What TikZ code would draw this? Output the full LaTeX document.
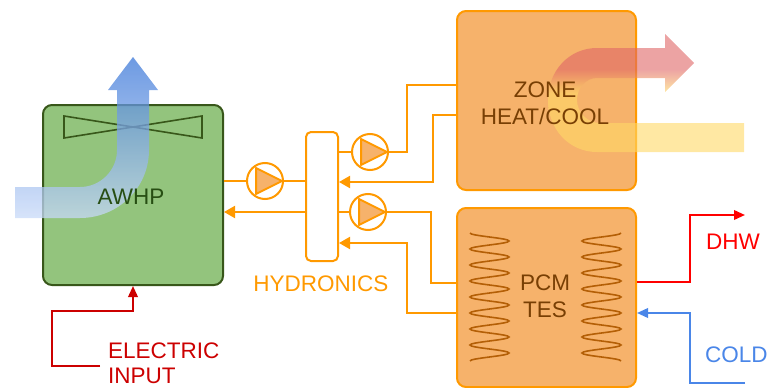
\documentclass[tikz,border=0pt]{standalone}
\usepackage{fontspec}
\setmainfont{Liberation Sans}
\usetikzlibrary{arrows.meta}
\definecolor{hotred}{HTML}{E06666}
\definecolor{warmyellow}{HTML}{FFD966}
\definecolor{airblue}{HTML}{3C78D8}
\definecolor{airpale}{HTML}{C9DAF8}
\definecolor{hydroorange}{HTML}{FF9900}
\definecolor{boxorange}{HTML}{F6B26B}
\definecolor{boxgreen}{HTML}{93C47D}
\definecolor{darkgreen}{HTML}{38571A}
\definecolor{textgreen}{HTML}{274E13}
\definecolor{textbrown}{HTML}{783F04}
\definecolor{coilbrown}{HTML}{B45F06}
\definecolor{elecred}{HTML}{CC0000}
\definecolor{coldblue}{HTML}{4A86E8}
\pgfdeclareverticalshading{zoneair}{100bp}{color(0bp)=(warmyellow); color(50bp)=(warmyellow); color(60bp)=(hotred); color(100bp)=(hotred)}

\begin{document}
\begin{tikzpicture}[x = 1pt,y = -1pt,
		font = \fontsize{22.5}{26.5}\selectfont,
		unitbox/.style = {draw = hydroorange,fill = boxorange,line width = 2pt,rounded corners = 9pt,minimum width = 179pt,minimum height = 179pt,inner sep = 0pt},
		pumpcircle/.style = {circle,draw = hydroorange,fill = white,line width = 2pt,inner sep = 0pt,minimum size = 36pt},
		pumptri/.style = {draw = hydroorange,fill = boxorange,line width = 2pt,line join = round},
		hydro/.style = {draw = hydroorange,line width = 2pt},
		hydroarrow/.style = {hydro,-{Triangle[length = 11pt,width = 12pt]}},
		coil/.style = {draw = coilbrown,line width = 1.6pt},
		feed/.style = {line width = 2pt,-{Triangle[length = 11pt,width = 9.5pt]}}]
		\clip (0,0) rectangle (769,388);
		\node (awhp) at (133,195) [draw = darkgreen,fill = boxgreen,line width = 2pt,rounded corners = 9pt,minimum width = 180pt,minimum height = 180pt,inner sep = 0pt] {};
		\draw [darkgreen,line width = 1.6pt] (64,116) -- (202,138) -- (202,116) -- (64,138) -- cycle;
		\shade [top color = airblue,bottom color = airpale,fill opacity = 0.75] (15,187) -- (80,187) .. controls (100.4,187) and (117,170.4) .. (117,150) -- (117,90) -- (108,90) -- (133,57) -- (158,90) -- (149,90) -- (149,150) .. controls (149,188) and (118,218) .. (80,218) -- (15,218) -- cycle;
		\node (awhplabel) at (131,197) [text = textgreen] {AWHP};
		\node (zone) at (546.5,100.5) [unitbox] {};
		\shade [shading = zoneair,fill opacity = 0.6] (744,123) -- (600,123) .. controls (587,123) and (577,112) .. (577,100) .. controls (577,88) and (586,78) .. (597,78) -- (665,78) -- (665,92) -- (694,63) -- (665,34) -- (665,48) -- (597,48) .. controls (569,48) and (548,71) .. (548,100) .. controls (548,129) and (569,152) .. (597,152) -- (744,152) -- cycle;
		\node (zonelabel) at (545,103.5) [text = textbrown,align = center] {ZONE\\HEAT/COOL};
		\node (pcm) at (546.5,297.5) [unitbox] {};
		\draw [coil] plot [domain = 233:361,samples = 129,smooth] ({489.5-19.5*cos(22.5*(\x-233))},\x);
		\draw [coil] plot [domain = 233:361,samples = 129,smooth] ({601.5+19.5*cos(22.5*(\x-233))},\x);
		\node (pcmlabel) at (545,296.5) [text = textbrown,align = center] {PCM\\TES};
		\node (hydronics) at (322,196.5) [draw = hydroorange,fill = white,line width = 2pt,rounded corners = 5pt,minimum width = 32pt,minimum height = 129pt,inner sep = 0pt] {};
		\node (hydrolabel) at (321,284) [text = hydroorange] {HYDRONICS};
		\node (pumpa) at (265,181) [pumpcircle] {};
		\node (pumpb) at (370,152) [pumpcircle] {};
		\node (pumpc) at (368,212) [pumpcircle] {};
		\foreach \pump in {pumpa,pumpb,pumpc}
			\draw [pumptri] (\pump.center) ++(-9,-13) -- ++(0,26) -- ++(26,-13) -- cycle;
		\coordinate (awhpout) at (awhp.east |- pumpa);
		\coordinate (hydroin) at (hydronics.west |- pumpa);
		\coordinate (hydroout) at (306,212);
		\coordinate (awhpin) at (224,212);
		\coordinate (zonesupply) at (457,85);
		\coordinate (zonereturn) at (457,115);
		\coordinate (pcmsupply) at (457,283);
		\coordinate (pcmreturn) at (457,313);
		\draw [hydro] (awhpout) -- (pumpa) -- (hydroin);
		\draw [hydroarrow] (hydroout) -- (awhpin);
		\draw [hydro] (hydronics.east |- pumpb) -- (pumpb);
		\draw [hydro] (pumpb.east) -- (407,152) |- (zonesupply);
		\draw [hydroarrow] (zonereturn) -- (433,115) |- (hydronics.east |- 0,182);
		\draw [hydro] (hydronics.east |- pumpc) -- (pumpc);
		\draw [hydro] (pumpc.east) -- (431,212) |- (pcmsupply);
		\draw [hydroarrow] (pcmreturn) -- (407,313) |- (hydronics.east |- 0,243);
		\coordinate (dhwout) at (637,282);
		\coordinate (dhwend) at (745,215);
		\coordinate (coldin) at (637,313);
		\coordinate (coldstart) at (745,383);
		\coordinate (elecstart) at (100,366);
		\draw [feed,red] (dhwout) -- (690,282) |- (dhwend);
		\draw [feed,coldblue] (coldstart) -- (690,383) |- (coldin);
		\draw [feed,elecred] (elecstart) -- (52,366) |- (133,311) -- (awhp.south);
		\node (dhwlabel) at (706,242) [anchor = west,inner sep = 0pt,text = red] {DHW};
		\node (coldlabel) at (705,355) [anchor = west,inner sep = 0pt,text = coldblue] {COLD};
		\node (eleclabel) at (108,363) [anchor = west,inner sep = 0pt,text = elecred,align = left,font = \fontsize{22.5}{25}\selectfont] {ELECTRIC\\INPUT};
	\end{tikzpicture}
\end{document}
